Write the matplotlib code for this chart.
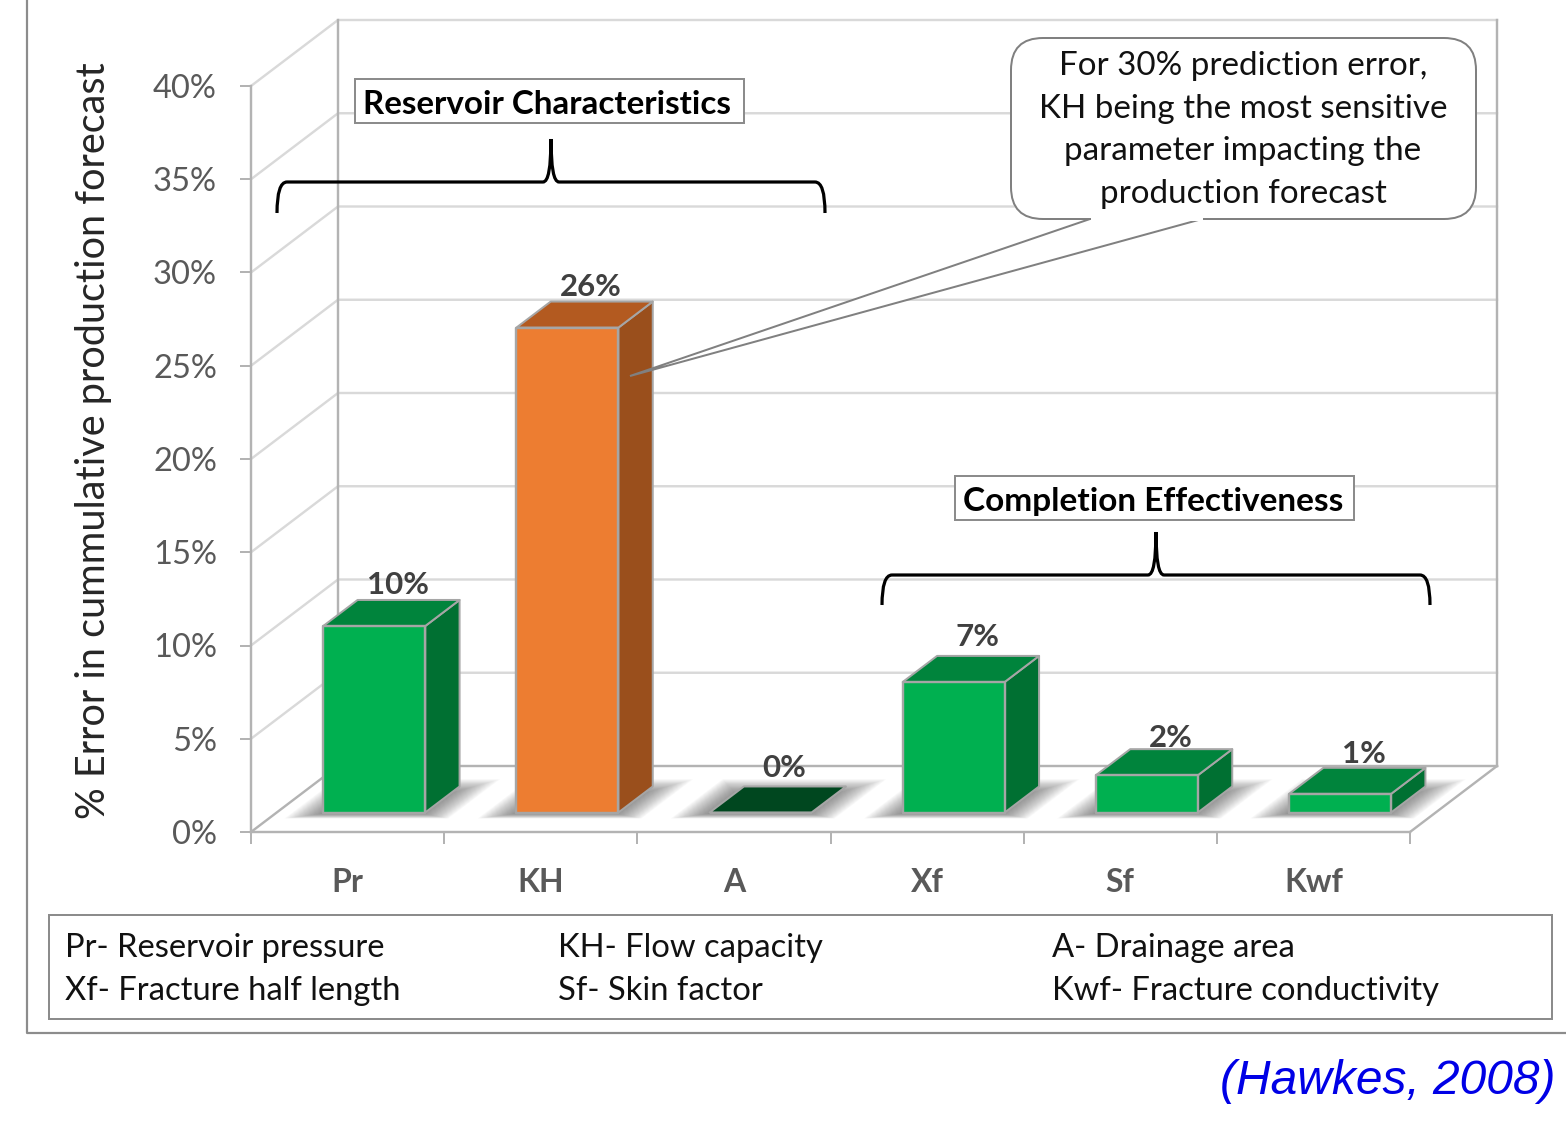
import matplotlib
matplotlib.use('Agg')
import matplotlib.pyplot as plt
from matplotlib.patches import Polygon, Rectangle, FancyBboxPatch, PathPatch
from matplotlib.path import Path

# chart values
categories = ['Pr', 'KH', 'A', 'Xf', 'Sf', 'Kwf']
errors = [10, 26, 0, 7, 2, 1]
pct_ticks = [0, 5, 10, 15, 20, 25, 30, 35, 40]

legend_rows = [
    ['Pr- Reservoir pressure', 'KH- Flow capacity', 'A- Drainage area'],
    ['Xf- Fracture half length', 'Sf- Skin factor', 'Kwf- Fracture conductivity'],
]
callout_text = ('For 30% prediction error,\nKH being the most sensitive\n'
                'parameter impacting the\nproduction forecast')

plt.rcParams['font.family'] = ['Lato', 'DejaVu Sans']

W, H = 1566, 1124
fig = plt.figure(figsize=(W / 100, H / 100), dpi=100, facecolor='white')
PX = 0.72  # one pixel in points

# page layer, pixel coords, for the frame/boxes/notes
page = fig.add_axes([0, 0, 1, 1], zorder=3)
page.set_xlim(0, W)
page.set_ylim(H, 0)
page.axis('off')
page.patch.set_alpha(0)

# chart axes: x in category slots, y in percent
L, R, B, T = 251, 1410, 832, 86
ax = fig.add_axes([L / W, 1 - B / H, (R - L) / W, (B - T) / H], zorder=2)
ax.patch.set_alpha(0)
ax.set_xlim(0, 6)
ax.set_ylim(0, 40)

# depth of the fake 3d box, in data units
DX = 87 / ((R - L) / 6)
DY = 66 / ((B - T) / 40)
BAR_W = 0.528
Z0, Z1 = 0.295, 0.69


def pt(x, y, z=0.0):
    return (x + z * DX, y + z * DY)


GRID = '#d9d9d9'
AXC = '#b3b3b3'
EDGE = '#a6a6a6'

# walls and gridlines
for p in pct_ticks:
    color = AXC if p == 0 else GRID
    ax.plot(*zip(pt(0, p), pt(0, p, 1), pt(6, p, 1)), color=color, lw=2.4 * PX, clip_on=False, zorder=1)
ax.plot(*zip(pt(0, 0, 1), pt(0, 40, 1)), color=AXC, lw=2.4 * PX, clip_on=False, zorder=1)
ax.plot(*zip(pt(6, 0, 1), pt(6, 40, 1)), color=AXC, lw=2.4 * PX, clip_on=False, zorder=1)
ax.plot(*zip(pt(6, 0), pt(6, 0, 1)), color=AXC, lw=2.4 * PX, clip_on=False, zorder=1)

fronts = ['#00b050', '#ed7d31', '#00b050', '#00b050', '#00b050', '#00b050']
tops = ['#00843c', '#b35a20', '#00471f', '#00843c', '#00843c', '#00843c']
sides = ['#007032', '#9a4f1c', '#007032', '#007032', '#007032', '#007032']
label_nudge = [16, 16, 20, 20, 13, 15]
LAYERS = 26

for i, val in enumerate(errors):
    x0 = i + 0.505 - BAR_W / 2
    x1 = i + 0.505 + BAR_W / 2

    # soft shadow on the floor: stacked see-through shapes, wide+faint to small
    for k in range(LAYERS):
        t = k / (LAYERS - 1)
        g = 0.16 * t
        zlo = Z0 - 0.02 - 0.07 * t
        zhi = Z1 - 0.10 + 0.21 * t
        ax.add_patch(Polygon([pt(x0 - g, 0, zlo), pt(x1 + g, 0, zlo), pt(x1 + g, 0, zhi), pt(x0 - g, 0, zhi)],
                             fc='#404040', ec='none', alpha=0.027, clip_on=False, zorder=2))

    ax.add_patch(Polygon([pt(x1, 0, Z0), pt(x1, 0, Z1), pt(x1, val, Z1), pt(x1, val, Z0)],
                         fc=sides[i], ec=EDGE, lw=2 * PX, clip_on=False, zorder=3, joinstyle='round'))
    ax.add_patch(Polygon([pt(x0, val, Z0), pt(x1, val, Z0), pt(x1, val, Z1), pt(x0, val, Z1)],
                         fc=tops[i], ec=EDGE, lw=2 * PX, clip_on=False, zorder=3, joinstyle='round'))
    ax.add_patch(Polygon([pt(x0, 0, Z0), pt(x1, 0, Z0), pt(x1, val, Z0), pt(x0, val, Z0)],
                         fc=fronts[i], ec=EDGE, lw=2.4 * PX, clip_on=False, zorder=4, joinstyle='round'))
    # label sits above the back edge of the top
    ax.annotate(f'{val}%', xy=pt(i + 0.5, val, Z1), xytext=(-(Z1 - 0.58) * 87, label_nudge[i] - 1.5),
                textcoords='offset pixels', ha='center', va='center', fontsize=22.5, fontweight='bold',
                color='#404040', annotation_clip=False, zorder=5)

# axes ticks
for s in ['top', 'right']:
    ax.spines[s].set_visible(False)
for s in ['left', 'bottom']:
    ax.spines[s].set_color(AXC)
    ax.spines[s].set_linewidth(2.4 * PX)
ax.set_yticks(pct_ticks)
ax.set_yticklabels([f'{p}%' for p in pct_ticks], fontsize=23.5, color='#595959')
ax.tick_params(axis='y', length=11 * PX, width=2 * PX, color=AXC, pad=23 * PX)
ax.set_xticks(range(7))
ax.set_xticklabels([])
ax.tick_params(axis='x', which='major', length=12 * PX, width=2 * PX, color=AXC)
ax.set_xticks([i + 0.5 for i in range(6)], minor=True)
ax.set_xticklabels(categories, minor=True, fontsize=23, fontweight='bold', color='#595959')
ax.tick_params(axis='x', which='minor', length=0, pad=36 * PX)
ax.set_ylabel('% Error in cummulative production forecast', fontsize=28.5, color='#262626')
ax.yaxis.set_label_coords((112 - L) / (R - L), (B - 441) / (B - T))

# outer frame
page.plot([27, 27, W], [0, 1033, 1033], color='#8c8c8c', lw=2.2 * PX)

# legend box
page.add_patch(Rectangle((49, 915), 1503, 104, fc='white', ec='#8c8c8c', lw=2 * PX))
col_x = [65, 558, 1052]
row_y = [948, 991]
for row, y in zip(legend_rows, row_y):
    for txt, x in zip(row, col_x):
        page.text(x, y, txt, fontsize=23.6, color='#111111', ha='left', va='center')

# callout
page.add_patch(Polygon([(1090, 219), (630, 376), (1202, 219)], closed=True, fc='white', ec='#808080', lw=2 * PX))
page.add_patch(FancyBboxPatch((1011 + 32, 38 + 32), 465 - 64, 181 - 64, boxstyle='round,pad=32,rounding_size=32',
                              fc='white', ec='#808080', lw=2 * PX))
page.plot([1092, 1200.5], [219, 219], color='white', lw=3 * PX)
page.text(1243, 130, callout_text, fontsize=23.9, color='#111111', ha='center', va='center', linespacing=1.53)


def brace(x0, xm, x1, ytop, ybot, ytip):
    verts = [(x0, ybot), (x0, ytop), (x0 + 10, ytop), (xm - 8, ytop), (xm, ytop), (xm, ytip),
             (xm, ytop), (xm + 8, ytop), (x1 - 10, ytop), (x1, ytop), (x1, ybot)]
    codes = [Path.MOVETO, Path.CURVE3, Path.CURVE3, Path.LINETO, Path.CURVE3, Path.CURVE3,
             Path.CURVE3, Path.CURVE3, Path.LINETO, Path.CURVE3, Path.CURVE3]
    page.add_patch(PathPatch(Path(verts, codes), fc='none', ec='black', lw=3.2 * PX))


brace(277, 551, 825, 182, 213, 139)
brace(882, 1156, 1430, 575, 605, 532)

# group headings
page.add_patch(Rectangle((355, 79), 389, 44, fc='white', ec='#8c8c8c', lw=2 * PX))
page.text(547, 104, 'Reservoir Characteristics', fontsize=23.9, fontweight='bold', color='black', ha='center', va='center')
page.add_patch(Rectangle((955, 476), 399, 44, fc='white', ec='#8c8c8c', lw=2 * PX))
page.text(1153, 501, 'Completion Effectiveness', fontsize=24, fontweight='bold', color='black', ha='center', va='center')

# citation
page.text(1555, 1081, '(Hawkes, 2008)', fontsize=34.5, style='italic', family=['Liberation Sans'], color='#0000e6',
          ha='right', va='center')

plt.savefig('out.png', dpi=100)
